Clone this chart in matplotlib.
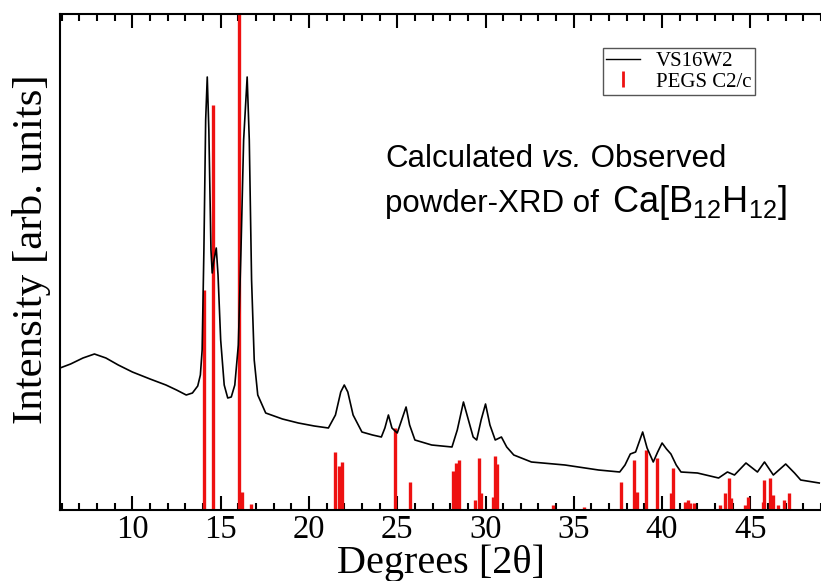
import matplotlib
matplotlib.use("Agg")
import matplotlib.pyplot as plt
from matplotlib.lines import Line2D
from matplotlib.ticker import MultipleLocator

# observed pattern (2theta, intensity)
obs_2theta = [5.9, 6.5, 7.2, 7.85, 8.5, 9.2, 10.0, 11.0, 11.9, 12.5, 13.05, 13.4,
              13.7, 13.85, 13.95, 14.05, 14.15, 14.24, 14.33, 14.45, 14.52, 14.6,
              14.75, 14.85, 15.0, 15.2, 15.4, 15.6, 15.8, 16.0, 16.15, 16.3, 16.5,
              16.62, 16.75, 16.9, 17.1, 17.55, 18.5, 19.4, 20.3, 21.1, 21.5, 21.8,
              22.0, 22.2, 22.5, 23.0, 23.6, 24.1, 24.3, 24.5, 24.7, 25.0, 25.25,
              25.5, 25.7, 26.0, 26.95, 28.1, 28.4, 28.75, 29.0, 29.3, 29.5, 29.75,
              30.0, 30.25, 30.55, 30.9, 31.2, 31.6, 32.6, 34.5, 36.4, 37.6, 37.9,
              38.2, 38.5, 38.7, 38.9, 39.15, 39.5, 39.75, 40.0, 40.25, 40.5, 40.8,
              41.07, 42.0, 43.2, 43.7, 44.1, 44.75, 45.4, 45.8, 46.3, 47.0, 47.5,
              47.85, 48.9]
obs_int = [142, 146, 152, 156, 152, 145, 138, 131, 125, 120, 115, 117,
           124, 135, 160, 260, 390, 433, 380, 260, 237, 248,
           262, 235, 170, 125, 112, 113, 125, 165, 260, 370, 433,
           370, 230, 150, 115, 97, 91, 87, 84, 82, 95, 118,
           125, 118, 95, 78, 75, 73, 82, 95, 82, 77, 90,
           103, 85, 70, 65, 63, 80, 108, 92, 73, 70, 90,
           106, 85, 70, 73, 63, 55, 48, 45, 40, 38, 45,
           56, 58, 68, 78, 62, 48, 58, 67, 61, 56, 45,
           38, 37, 32, 38, 35, 47, 38, 48, 35, 46, 37,
           30, 27]

# calculated reflections (PEGS C2/c)
calc_2theta = [14.07, 14.58, 16.05, 16.2, 16.7, 21.45, 21.7, 21.87, 24.86, 25.7,
               28.15, 28.3, 28.47, 29.4, 29.65, 29.75, 30.45, 30.55, 30.65, 33.8,
               35.6, 37.7, 38.4, 38.6, 39.1, 39.7, 40.5, 40.6, 41.3, 41.45, 41.6,
               41.8, 43.3, 43.55, 43.8, 43.9, 44.7, 44.85, 45.7, 45.8, 46.1, 46.3,
               46.55, 46.9, 47.2]
calc_int = [220, 405, 500, 18, 6, 58, 44, 48, 82, 28,
            39, 47, 50, 10, 52, 17, 13, 54, 46, 5,
            3, 28, 50, 18, 60, 52, 17, 42, 8, 10, 7,
            7, 5, 17, 32, 12, 5, 13, 8, 30, 32, 15,
            5, 10, 17]

labels = ["VS16W2", "PEGS C2/c"]

plt.rcParams['font.family'] = ['Liberation Serif', 'DejaVu Serif']
plt.rcParams['mathtext.fontset'] = 'custom'
plt.rcParams['mathtext.rm'] = 'Liberation Sans'
plt.rcParams['mathtext.it'] = 'Liberation Sans:italic'

fig = plt.figure(figsize=(8.21, 5.81), dpi=100)
ax = fig.add_axes([60 / 821, 71 / 581, 761 / 821, 496 / 581])

ax.vlines(calc_2theta, 0, calc_int, color="#ee1111", lw=2.4, zorder=2)
ax.plot(obs_2theta, obs_int, color="black", lw=1.2, zorder=3)

ax.set_xlim(5.9, 49.0)
ax.set_ylim(0, 496)

ax.xaxis.set_major_locator(MultipleLocator(5))
ax.xaxis.set_minor_locator(MultipleLocator(1))
ax.tick_params(axis="x", which="both", direction="in", top=True, bottom=True,
               width=1.5, labelsize=23.5, pad=3)
ax.tick_params(axis="x", which="major", length=10)
ax.tick_params(axis="x", which="minor", length=5)
ax.set_yticks([])
ax.spines["right"].set_visible(False)
for s in ["left", "top", "bottom"]:
    ax.spines[s].set_linewidth(1.5)

ax.set_xlabel("Degrees [2θ]", fontsize=29, labelpad=0)
ax.set_ylabel("Intensity [arb. units]", fontsize=31)
ax.yaxis.set_label_coords(-0.012, 0.525)

handles = [Line2D([], [], color="black", lw=1),
           Line2D([], [], color="#ee1111", marker="|", linestyle="none",
                  markersize=11, markeredgewidth=2)]
ax.legend(handles, labels, loc="upper right", bbox_to_anchor=(0.913, 0.931),
          fontsize=15, fancybox=False, edgecolor="#555555", framealpha=1,
          labelspacing=0.05, borderpad=0.15, handlelength=1.6, borderaxespad=0,
          handletextpad=0.8)

sans = dict(family="Liberation Sans", fontsize=22.5)
t = ax.text(0.427, 0.692, "Calculated", transform=ax.transAxes, va="baseline", **sans)
t = ax.annotate(" vs.", xy=(1, 0), xycoords=t, va="bottom", style="italic", **sans)
ax.annotate(" Observed", xy=(1, 0), xycoords=t, va="bottom", **sans)
ax.text(0.427, 0.601, "powder-XRD of", transform=ax.transAxes, va="baseline", **sans)
ax.text(0.725, 0.601, r"Ca[B$_{12}$H$_{12}$]", transform=ax.transAxes,
        va="baseline", family="Liberation Sans", fontsize=26)

fig.savefig("out.png", dpi=100)
